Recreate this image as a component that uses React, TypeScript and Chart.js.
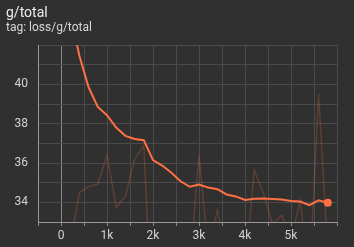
import React, { useEffect, useRef } from 'react';
import { Chart, registerables } from 'chart.js';

Chart.register(...registerables);

const steps = [
  200, 400, 600, 800, 1000, 1200, 1400, 1600, 1800, 2000,
  2200, 2400, 2600, 2800, 3000, 3200, 3400, 3600, 3800, 4000,
  4200, 4400, 4600, 4800, 5000, 5200, 5400, 5600, 5800,
];

const rawValues = [
  31.9, 34.5, 34.8, 34.93, 36.4, 33.75, 34.32, 36.18, 36.9, 27.0,
  29.0, 28.5, 29.5, 30.7, 36.4, 31.5, 33.6, 31.4, 30.0, 30.4,
  35.64, 34.46, 32.9, 33.35, 32.1, 34.12, 30.0, 39.53, 31.4,
];

const smoothedValues = [
  43.6, 41.45, 39.85, 38.85, 38.43, 37.8, 37.38, 37.22, 37.16, 36.15,
  35.87, 35.5, 35.07, 34.79, 34.91, 34.75, 34.67, 34.4, 34.3, 34.12,
  34.18, 34.2, 34.17, 34.14, 34.07, 34.04, 33.86, 34.1, 33.98,
];

const xMin = -500;
const xMax = 6000;
const xStep = 500;
const yMin = 33;
const yMax = 42;
const yStep = 1;

const title = 'g/total';
const subtitle = 'tag: loss/g/total';

const ORANGE = '#ff7043';
const BG = '#303030';

export default function App() {
  const canvasRef = useRef<HTMLCanvasElement | null>(null);

  useEffect(() => {
    const canvas = canvasRef.current;
    if (!canvas) return;
    const last = steps.length - 1;
    const chart = new Chart(canvas, {
      type: 'line',
      data: {
        datasets: [
          {
            label: 'smoothed',
            data: steps.map((s, i) => ({ x: s, y: smoothedValues[i] })),
            borderColor: ORANGE,
            backgroundColor: ORANGE,
            borderWidth: 2,
            tension: 0,
            pointRadius: (ctx: any) => (ctx.dataIndex === last ? 4 : 0),
            pointBorderWidth: 0,
            pointBackgroundColor: ORANGE,
          },
          {
            label: 'raw',
            data: steps.map((s, i) => ({ x: s, y: rawValues[i] })),
            borderColor: 'rgba(255,112,67,0.22)',
            borderWidth: 1.5,
            tension: 0,
            pointRadius: 0,
          },
        ],
      },
      options: {
        animation: false,
        responsive: false,
        devicePixelRatio: 1,
        layout: { padding: { top: 45, right: 17, left: 0, bottom: 0 } },
        plugins: { legend: { display: false }, tooltip: { enabled: false } },
        scales: {
          x: {
            type: 'linear',
            min: xMin,
            max: xMax,
            afterFit: (scale: any) => {
              scale.height = 25;
            },
            ticks: {
              stepSize: xStep,
              autoSkip: false,
              maxRotation: 0,
              padding: 3,
              color: '#d2d2d2',
              font: { family: 'Roboto', size: 12 },
              callback: (v: any) => {
                const n = Number(v);
                if (n < 0 || n >= xMax || n % 1000 !== 0) return '';
                return n === 0 ? '0' : n / 1000 + 'k';
              },
            },
            grid: {
              color: (ctx: any) => (ctx.tick && ctx.tick.value === 0 ? '#8a8a8a' : '#4a4a4a'),
              tickColor: '#8a8a8a',
              tickLength: 4,
            },
            border: { color: '#9a9a9a', width: 1 },
          },
          y: {
            type: 'linear',
            min: yMin,
            max: yMax,
            afterFit: (scale: any) => {
              scale.width = 38;
            },
            ticks: {
              stepSize: yStep,
              autoSkip: false,
              padding: 10,
              color: '#d2d2d2',
              font: { family: 'Roboto', size: 12 },
              callback: (v: any) => {
                const n = Number(v);
                return n % 2 === 0 && n < yMax ? String(n) : '';
              },
            },
            grid: {
              color: '#4a4a4a',
              drawTicks: false,
            },
            border: { color: '#9a9a9a', width: 1 },
          },
        },
      },
    });
    return () => chart.destroy();
  }, []);

  return (
    <div
      style={{
        position: 'fixed',
        left: 0,
        top: 0,
        width: 354,
        height: 247,
        background: BG,
        overflow: 'hidden',
        fontFamily: 'Roboto, sans-serif',
      }}
    >
      <canvas
        ref={canvasRef}
        width={354}
        height={247}
        style={{ position: 'absolute', left: 0, top: 0, width: 354, height: 247, display: 'block' }}
      />
      <div
        style={{
          position: 'absolute',
          left: 6,
          top: 4,
          fontSize: 14,
          lineHeight: '16px',
          color: '#ececec',
          whiteSpace: 'nowrap',
        }}
      >
        {title}
      </div>
      <div
        style={{
          position: 'absolute',
          left: 6,
          top: 20,
          fontSize: 12,
          lineHeight: '14px',
          color: '#d6d6d6',
          whiteSpace: 'nowrap',
        }}
      >
        {subtitle}
      </div>
    </div>
  );
}
